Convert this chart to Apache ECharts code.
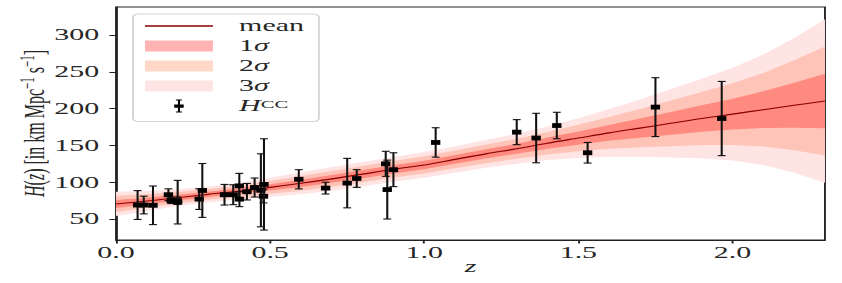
<!DOCTYPE html>
<html>
<head>
<meta charset="utf-8">
<script src="https://cdn.jsdelivr.net/npm/echarts@6/dist/echarts.min.js"></script>
<style>
html,body{margin:0;padding:0;background:#fff;}
#wrap{width:842px;height:283px;overflow:hidden;}
#c{width:450px;height:283px;transform:scaleX(1.8711);transform-origin:0 0;}
</style>
</head>
<body>
<div id="wrap"><div id="c"></div></div>
<script>
// ---- data ----
// cosmic-chronometer H(z) points: redshift, H, 1-sigma error
const ccZ   = [0.07, 0.09, 0.12, 0.17, 0.179, 0.199, 0.20, 0.27, 0.28, 0.352, 0.3802, 0.40, 0.4004, 0.4247, 0.4497, 0.47, 0.4783, 0.48, 0.593, 0.68, 0.75, 0.781, 0.875, 0.88, 0.90, 1.037, 1.30, 1.363, 1.43, 1.53, 1.75, 1.965];
const ccH   = [69, 69, 68.6, 83, 75, 75, 72.9, 77, 88.8, 83, 83, 95, 77, 87.1, 92.8, 89, 80.9, 97, 104, 92, 98.8, 105, 125, 90, 117, 154, 168, 160, 177, 140, 202, 186.5];
const ccErr = [19.6, 12, 26.2, 8, 4, 5, 29.6, 14, 36.6, 14, 13.5, 17, 10.2, 11.2, 12.9, 49.6, 9, 62, 13, 8, 33.6, 12, 17, 40, 23, 20, 17, 33.6, 18, 14, 40, 50.4];

// reconstructed mean curve and its 1-sigma width
const recZ     = [0, 0.1, 0.2, 0.3, 0.4, 0.5, 0.6, 0.7, 0.8, 0.9, 1.0, 1.1, 1.2, 1.3, 1.4, 1.5, 1.6, 1.7, 1.8, 1.9, 2.0, 2.1, 2.2, 2.3];
const recMean  = [70.5, 74.5, 79, 83.5, 88, 93, 98.5, 104.5, 111, 117.5, 123.5, 131, 138.5, 145.5, 153, 160, 167, 173.5, 180, 186.5, 192.5, 198.5, 204.5, 210.3];
const recSigma = [5.5, 4.5, 3.8, 3.6, 3.8, 4.3, 5.0, 5.4, 5.5, 5.6, 5.8, 6.0, 6.3, 6.8, 7.6, 9.0, 10.8, 13.0, 15.5, 18.0, 21.0, 25.0, 30.5, 37.0];

// axis ticks
const xTicks = [0, 0.5, 1.0, 1.5, 2.0];
const yTicks = [50, 100, 150, 200, 250, 300];

// ---- chart ----
const FONT = 'Liberation Serif';
const FS = 16;
const TXT = '#262626';
const chart = echarts.init(document.getElementById('c'), null, {renderer: 'svg'});

function bandRows(k) {
  return recZ.map((z, i) => [z, recMean[i] - k * recSigma[i], recMean[i] + k * recSigma[i]]);
}
function bandSeries(name, k, fill) {
  const rows = bandRows(k);
  return {
    name: name,
    type: 'custom',
    clip: true,
    silent: true,
    itemStyle: {color: fill},
    data: rows,
    encode: {x: 0, y: [1, 2]},
    renderItem: function (params, api) {
      if (params.dataIndex !== 0) return null;
      const pts = [];
      for (let i = 0; i < rows.length; i++) pts.push(api.coord([rows[i][0], rows[i][2]]));
      for (let i = rows.length - 1; i >= 0; i--) pts.push(api.coord([rows[i][0], rows[i][1]]));
      return {type: 'polygon', shape: {points: pts}, style: {fill: fill, stroke: null}};
    },
    z: 1
  };
}

const errData = ccZ.map((z, i) => [z, ccH[i], ccErr[i]]);

// legend icons drawn in a 36.3 x 13 box (corner specks fix the box extent)
const BOXPTS = 'M0,0h0.01v0.01h-0.01z M36.29,12.99h0.01v0.01h-0.01z ';
const ICON_MEAN = 'path://' + BOXPTS + 'M0,5.8h36.3v1.4h-36.3z';
const ICON_CC = 'path://' + BOXPTS + 'M16.5,0h3.3v0.9h-3.3z M17.6,0h1.1v13h-1.1z M16.5,12.1h3.3v0.9h-3.3z M15.6,4.9h5.1v3.3h-5.1z';
const ICON_BAND = 'path://' + BOXPTS + 'M0,1h36.3v11h-36.3z';

const option = {
  animation: false,
  backgroundColor: '#fff',
  textStyle: {fontFamily: FONT},
  grid: {left: 62, right: 9.1, top: 7, bottom: 43, outerBoundsMode: 'none', containLabel: false,
    show: true, borderColor: '#222', borderWidth: 1, backgroundColor: 'transparent'},
  xAxis: {
    type: 'value', min: 0, max: 2.3,
    name: 'z', nameLocation: 'middle', nameGap: 19, nameMoveOverlap: false,
    nameTextStyle: {fontFamily: FONT, fontStyle: 'italic', fontSize: FS, color: TXT},
    axisLine: {show: true, onZero: false, lineStyle: {color: '#222', width: 1}},
    axisTick: {show: true, length: 3.5, customValues: xTicks, lineStyle: {color: '#222'}},
    axisLabel: {customValues: xTicks, margin: 5, fontFamily: FONT, fontSize: FS, color: TXT,
      formatter: v => v.toFixed(1)},
    splitLine: {show: false}
  },
  yAxis: {
    type: 'value', min: 21.5, max: 338,
    name: '{i|H}({i|z}) [in km Mpc{s|−1} s{s|−1}]',
    nameLocation: 'middle', nameGap: 35, nameRotate: 90, nameMoveOverlap: false,
    nameTextStyle: {fontFamily: FONT, fontSize: FS, color: TXT, lineHeight: 18,
      rich: {
        i: {fontFamily: FONT, fontStyle: 'italic', fontSize: FS, color: TXT, lineHeight: 18},
        s: {fontFamily: FONT, fontSize: 11, color: TXT, verticalAlign: 'top', lineHeight: 18}
      }},
    axisLine: {show: true, onZero: false, lineStyle: {color: '#222', width: 1}},
    axisTick: {show: true, length: 3.5, customValues: yTicks, lineStyle: {color: '#222'}},
    axisLabel: {customValues: yTicks, margin: 9, fontFamily: FONT, fontSize: FS, color: TXT},
    splitLine: {show: false}
  },
  legend: {
    orient: 'vertical', left: 71.1, top: 14,
    padding: [4, 8, 7.5, 6.4], itemGap: 4, itemWidth: 36.3, itemHeight: 13,
    symbolKeepAspect: false,
    backgroundColor: '#fff', borderColor: '#d4d4d4', borderWidth: 1, borderRadius: 3,
    selectedMode: false,
    textStyle: {fontFamily: FONT, fontSize: FS, color: TXT, lineHeight: 14, padding: [0, 0, 0, 9],
      rich: {
        i: {fontFamily: FONT, fontStyle: 'italic', fontSize: FS, color: TXT, lineHeight: 14},
        s: {fontFamily: FONT, fontSize: 11, color: TXT, verticalAlign: 'top', lineHeight: 14}
      }},
    formatter: function (name) {
      if (name === 'HCC') return '{i|H}{s|CC}';
      if (name.indexOf('σ') > 0) return name.charAt(0) + '{i|σ}';
      return name;
    },
    data: [
      {name: 'mean', icon: ICON_MEAN, itemStyle: {color: '#8b0000'}},
      {name: '1σ', icon: ICON_BAND, itemStyle: {color: '#ffb3b3'}},
      {name: '2σ', icon: ICON_BAND, itemStyle: {color: '#ffd8ca'}},
      {name: '3σ', icon: ICON_BAND, itemStyle: {color: '#ffe4e4'}},
      {name: 'HCC', icon: ICON_CC, itemStyle: {color: '#000'}}
    ]
  },
  series: [
    bandSeries('3σ', 3, '#ffe4e4'),
    bandSeries('2σ', 2, '#ffc4b8'),
    bandSeries('1σ', 1, '#ff8b80'),
    {
      name: 'mean', type: 'line', symbol: 'none', smooth: 0.3, silent: true, z: 3,
      lineStyle: {color: '#8b0000', width: 1.1},
      itemStyle: {color: '#8b0000'},
      data: recZ.map((z, i) => [z, recMean[i]])
    },
    {
      name: 'HCC', type: 'custom', z: 5, silent: true,
      itemStyle: {color: '#000'},
      data: errData,
      encode: {x: 0, y: 1},
      renderItem: function (params, api) {
        const x = api.value(0), y = api.value(1), e = api.value(2);
        const top = api.coord([x, y + e]);
        const bot = api.coord([x, y - e]);
        const c = api.coord([x, y]);
        const cap = 2.1, st = {stroke: '#111', lineWidth: 1.1};
        return {
          type: 'group',
          children: [
            {type: 'line', shape: {x1: c[0], y1: top[1], x2: c[0], y2: bot[1]}, style: st},
            {type: 'line', shape: {x1: c[0] - cap, y1: top[1], x2: c[0] + cap, y2: top[1]}, style: st},
            {type: 'line', shape: {x1: c[0] - cap, y1: bot[1], x2: c[0] + cap, y2: bot[1]}, style: st},
            {type: 'rect', shape: {x: c[0] - 2.5, y: c[1] - 2.4, width: 5, height: 4.8}, style: {fill: '#000'}}
          ]
        };
      }
    }
  ]
};
chart.setOption(option);
</script>
</body>
</html>
